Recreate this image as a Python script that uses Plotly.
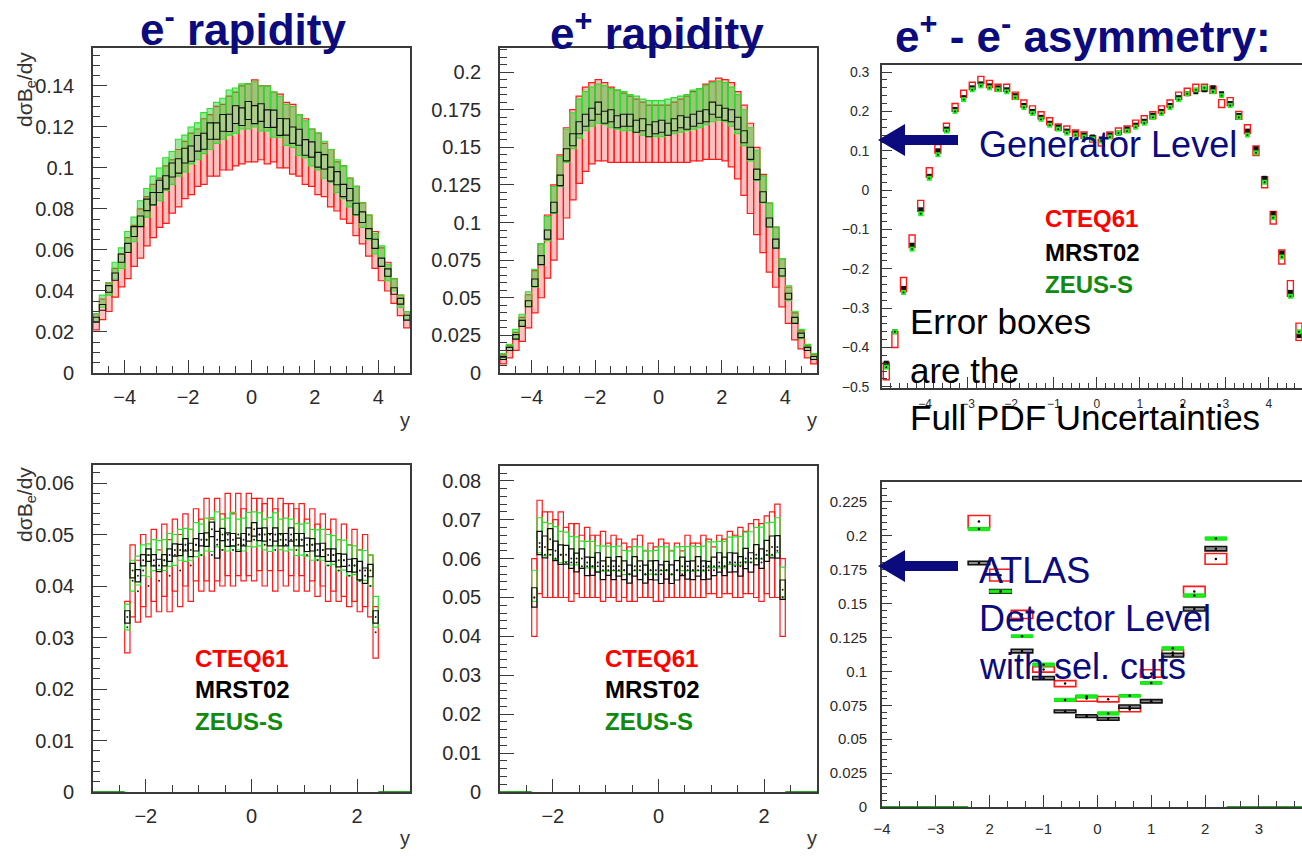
import plotly.graph_objects as go

W, H = 1302, 862

# ---------------- bins (histogram bin centres) ----------------
x_top = [-4.9, -4.7, -4.5, -4.3, -4.1, -3.9, -3.7, -3.5, -3.3, -3.1,
         -2.9, -2.7, -2.5, -2.3, -2.1, -1.9, -1.7, -1.5, -1.3, -1.1,
         -0.9, -0.7, -0.5, -0.3, -0.1, 0.1, 0.3, 0.5, 0.7, 0.9,
         1.1, 1.3, 1.5, 1.7, 1.9, 2.1, 2.3, 2.5, 2.7, 2.9,
         3.1, 3.3, 3.5, 3.7, 3.9, 4.1, 4.3, 4.5, 4.7, 4.9]
x_bot = [-2.35, -2.25, -2.15, -2.05, -1.95, -1.85, -1.75, -1.65, -1.55, -1.45,
         -1.35, -1.25, -1.15, -1.05, -0.95, -0.85, -0.75, -0.65, -0.55, -0.45,
         -0.35, -0.25, -0.15, -0.05, 0.05, 0.15, 0.25, 0.35, 0.45, 0.55,
         0.65, 0.75, 0.85, 0.95, 1.05, 1.15, 1.25, 1.35, 1.45, 1.55,
         1.65, 1.75, 1.85, 1.95, 2.05, 2.15, 2.25, 2.35]
x_det = [-2.2, -1.8, -1.4, -1.0, -0.6, -0.2, 0.2, 0.6, 1.0, 1.4, 1.8, 2.2]
zero_bins_bot = [-3.0, -2.4, 2.4, 3.0]
zero_bins_det = [-4.0, -2.4, 2.4, 3.8]

# ---------------- panel 1 : e- rapidity (generator level) ----------------
p1_mrst_c = [0.026, 0.032, 0.041, 0.047, 0.056, 0.061, 0.069, 0.074, 0.082, 0.085,
             0.091, 0.093, 0.099, 0.101, 0.106, 0.107, 0.112, 0.113, 0.118, 0.118,
             0.122, 0.122, 0.126, 0.125, 0.128, 0.126, 0.127, 0.124, 0.124, 0.120,
             0.120, 0.116, 0.115, 0.110, 0.109, 0.104, 0.103, 0.097, 0.095, 0.089,
             0.087, 0.080, 0.076, 0.068, 0.063, 0.054, 0.049, 0.040, 0.035, 0.027]
p1_mrst_e = [0.0012, 0.0014, 0.0016, 0.0018, 0.002, 0.0022, 0.0024, 0.0026, 0.0028, 0.003,
             0.003, 0.0032, 0.0034, 0.0035, 0.0036, 0.0037, 0.0038, 0.0039, 0.004, 0.004,
             0.0041, 0.0042, 0.0043, 0.0043, 0.0044, 0.0044, 0.0043, 0.0043, 0.0042, 0.0041,
             0.004, 0.004, 0.0039, 0.0038, 0.0037, 0.0036, 0.0035, 0.0034, 0.0032, 0.003,
             0.003, 0.0028, 0.0026, 0.0024, 0.0022, 0.002, 0.0018, 0.0016, 0.0014, 0.0012]
p1_zeus_c = [0.027, 0.035, 0.041, 0.050, 0.056, 0.064, 0.070, 0.078, 0.083, 0.089,
             0.092, 0.097, 0.100, 0.105, 0.107, 0.111, 0.113, 0.117, 0.119, 0.122,
             0.124, 0.127, 0.128, 0.130, 0.130, 0.131, 0.129, 0.129, 0.126, 0.125,
             0.121, 0.120, 0.116, 0.114, 0.110, 0.108, 0.104, 0.101, 0.096, 0.093,
             0.088, 0.084, 0.077, 0.071, 0.063, 0.057, 0.049, 0.043, 0.035, 0.028]
p1_zeus_e = [0.002, 0.003, 0.003, 0.004, 0.005, 0.005, 0.006, 0.006, 0.007, 0.007,
             0.008, 0.008, 0.008, 0.009, 0.009, 0.009, 0.009, 0.010, 0.010, 0.010,
             0.010, 0.011, 0.011, 0.011, 0.011, 0.011, 0.011, 0.011, 0.011, 0.010,
             0.010, 0.010, 0.010, 0.009, 0.009, 0.009, 0.009, 0.008, 0.008, 0.008,
             0.007, 0.007, 0.006, 0.006, 0.005, 0.005, 0.004, 0.003, 0.003, 0.002]
p1_cteq_c = [0.025, 0.031, 0.037, 0.044, 0.050, 0.056, 0.062, 0.068, 0.074, 0.079,
             0.083, 0.087, 0.091, 0.095, 0.099, 0.102, 0.105, 0.108, 0.111, 0.113,
             0.115, 0.117, 0.119, 0.121, 0.122, 0.123, 0.122, 0.121, 0.120, 0.118,
             0.116, 0.114, 0.111, 0.108, 0.105, 0.102, 0.099, 0.095, 0.091, 0.088,
             0.084, 0.079, 0.073, 0.067, 0.060, 0.053, 0.047, 0.040, 0.033, 0.026]
p1_cteq_e = [0.004, 0.005, 0.007, 0.007, 0.008, 0.010, 0.010, 0.012, 0.012, 0.013,
             0.012, 0.014, 0.013, 0.014, 0.014, 0.015, 0.014, 0.016, 0.015, 0.017,
             0.016, 0.018, 0.018, 0.019, 0.019, 0.020, 0.018, 0.019, 0.017, 0.018,
             0.016, 0.017, 0.015, 0.016, 0.014, 0.015, 0.013, 0.014, 0.012, 0.013,
             0.011, 0.012, 0.010, 0.010, 0.009, 0.008, 0.007, 0.006, 0.005, 0.004]

# ---------------- panel 2 : e+ rapidity (generator level) ----------------
p2_mrst_c = [0.010, 0.016, 0.024, 0.033, 0.046, 0.060, 0.075, 0.092, 0.110, 0.128,
             0.145, 0.155, 0.163, 0.168, 0.172, 0.176, 0.170, 0.171, 0.167, 0.168,
             0.168, 0.164, 0.165, 0.161, 0.163, 0.164, 0.162, 0.165, 0.167, 0.166,
             0.168, 0.170, 0.171, 0.176, 0.174, 0.172, 0.171, 0.166, 0.157, 0.146,
             0.132, 0.117, 0.100, 0.086, 0.067, 0.051, 0.035, 0.025, 0.016, 0.010]
p2_mrst_e = [0.001, 0.001, 0.0015, 0.002, 0.002, 0.0025, 0.003, 0.003, 0.0035, 0.0035,
             0.004, 0.004, 0.004, 0.004, 0.004, 0.004, 0.004, 0.004, 0.004, 0.004,
             0.004, 0.004, 0.004, 0.004, 0.004, 0.004, 0.004, 0.004, 0.004, 0.004,
             0.004, 0.004, 0.004, 0.004, 0.004, 0.004, 0.004, 0.004, 0.004, 0.004,
             0.0035, 0.0035, 0.003, 0.003, 0.0025, 0.002, 0.002, 0.0015, 0.001, 0.001]
p2_zeus_c = [0.011, 0.017, 0.026, 0.035, 0.049, 0.063, 0.079, 0.096, 0.115, 0.134,
             0.151, 0.161, 0.169, 0.174, 0.177, 0.179, 0.178, 0.176, 0.175, 0.174,
             0.173, 0.172, 0.170, 0.169, 0.169, 0.169, 0.170, 0.171, 0.172, 0.173,
             0.175, 0.176, 0.178, 0.180, 0.181, 0.180, 0.177, 0.172, 0.163, 0.152,
             0.138, 0.122, 0.105, 0.090, 0.070, 0.053, 0.037, 0.026, 0.017, 0.011]
p2_zeus_e = [0.002, 0.002, 0.003, 0.004, 0.005, 0.006, 0.007, 0.008, 0.009, 0.010,
             0.011, 0.012, 0.013, 0.013, 0.013, 0.013, 0.013, 0.013, 0.013, 0.013,
             0.012, 0.012, 0.012, 0.012, 0.012, 0.012, 0.012, 0.012, 0.012, 0.012,
             0.013, 0.013, 0.013, 0.013, 0.013, 0.013, 0.013, 0.013, 0.012, 0.011,
             0.010, 0.009, 0.008, 0.007, 0.006, 0.005, 0.004, 0.003, 0.002, 0.002]
p2_cteq_c = [0.009, 0.014, 0.021, 0.029, 0.041, 0.054, 0.068, 0.084, 0.100, 0.117,
             0.133, 0.145, 0.155, 0.162, 0.166, 0.168, 0.167, 0.165, 0.164, 0.163,
             0.162, 0.161, 0.160, 0.159, 0.159, 0.159, 0.159, 0.160, 0.161, 0.162,
             0.164, 0.165, 0.167, 0.168, 0.169, 0.168, 0.165, 0.158, 0.148, 0.136,
             0.121, 0.106, 0.090, 0.077, 0.060, 0.045, 0.031, 0.022, 0.014, 0.009]
p2_cteq_e = [0.003, 0.004, 0.006, 0.008, 0.011, 0.014, 0.018, 0.021, 0.025, 0.028,
             0.030, 0.030, 0.029, 0.028, 0.027, 0.027, 0.026, 0.025, 0.024, 0.023,
             0.022, 0.021, 0.020, 0.019, 0.019, 0.019, 0.019, 0.020, 0.021, 0.022,
             0.023, 0.024, 0.025, 0.026, 0.027, 0.027, 0.028, 0.029, 0.030, 0.030,
             0.029, 0.026, 0.023, 0.020, 0.016, 0.012, 0.009, 0.006, 0.004, 0.003]

# ---------------- panel 3 : e+ - e- asymmetry (generator level) ----------------
p3_mrst = [-0.44, -0.36, -0.25, -0.14, -0.05, 0.035, 0.10, 0.155, 0.205, 0.235,
           0.26, 0.27, 0.265, 0.26, 0.255, 0.24, 0.215, 0.20, 0.185, 0.17,
           0.16, 0.15, 0.145, 0.14, 0.135, 0.13, 0.14, 0.145, 0.155, 0.165,
           0.175, 0.19, 0.20, 0.215, 0.235, 0.245, 0.25, 0.255, 0.26, 0.245,
           0.22, 0.19, 0.15, 0.105, 0.03, -0.06, -0.16, -0.26, -0.37, -0.46]
p3_zeus = [-0.45, -0.36, -0.26, -0.15, -0.06, 0.03, 0.09, 0.15, 0.20, 0.23,
           0.255, 0.265, 0.26, 0.255, 0.25, 0.235, 0.21, 0.195, 0.18, 0.165,
           0.155, 0.145, 0.14, 0.135, 0.13, 0.125, 0.135, 0.145, 0.15, 0.16,
           0.17, 0.185, 0.195, 0.21, 0.23, 0.245, 0.255, 0.26, 0.25, 0.24,
           0.215, 0.185, 0.14, 0.095, 0.02, -0.07, -0.17, -0.27, -0.36, -0.45]
p3_cteq = [-0.46, -0.38, -0.24, -0.13, -0.04, 0.045, 0.105, 0.16, 0.21, 0.245,
           0.265, 0.28, 0.27, 0.26, 0.26, 0.24, 0.22, 0.205, 0.19, 0.175,
           0.16, 0.155, 0.145, 0.14, 0.13, 0.12, 0.14, 0.15, 0.155, 0.17,
           0.18, 0.19, 0.205, 0.22, 0.24, 0.25, 0.26, 0.26, 0.255, 0.22,
           0.225, 0.19, 0.155, 0.10, 0.02, -0.07, -0.17, -0.25, -0.36, -0.47]
p3_cteq_e = [0.022, 0.02, 0.018, 0.016, 0.014, 0.012, 0.011, 0.01, 0.01, 0.009,
             0.009, 0.009, 0.009, 0.009, 0.009, 0.009, 0.009, 0.009, 0.009, 0.009,
             0.008, 0.008, 0.008, 0.008, 0.008, 0.008, 0.008, 0.008, 0.008, 0.008,
             0.009, 0.009, 0.009, 0.009, 0.009, 0.009, 0.009, 0.009, 0.009, 0.01,
             0.01, 0.01, 0.011, 0.012, 0.014, 0.016, 0.018, 0.02, 0.022, 0.024]
p3_tickvals = [-4, -3, -2, -1, 0, 1, 2, 3, 4]

# ---------------- panel 4 : e- rapidity (detector level) ----------------
p4_mrst_c = [0.034, 0.043, 0.042, 0.045, 0.046, 0.045, 0.044, 0.045, 0.046, 0.047,
             0.047, 0.048, 0.047, 0.048, 0.049, 0.049, 0.051, 0.048, 0.050, 0.049,
             0.049, 0.048, 0.049, 0.050, 0.051, 0.050, 0.050, 0.049, 0.050, 0.049,
             0.049, 0.050, 0.049, 0.049, 0.048, 0.048, 0.047, 0.047, 0.046, 0.046,
             0.045, 0.045, 0.044, 0.044, 0.043, 0.042, 0.043, 0.034]
p4_mrst_e = [0.0012, 0.0014, 0.0012, 0.0011, 0.0012, 0.0011, 0.0012, 0.0011, 0.0012, 0.0012,
             0.0011, 0.0012, 0.0013, 0.0012, 0.0012, 0.0013, 0.0014, 0.0026, 0.0012, 0.0013,
             0.0012, 0.0013, 0.0012, 0.0013, 0.0013, 0.0012, 0.0013, 0.0012, 0.0013, 0.0012,
             0.0012, 0.0013, 0.0012, 0.0012, 0.0013, 0.0012, 0.0012, 0.0013, 0.0012, 0.0012,
             0.0013, 0.0012, 0.0012, 0.0013, 0.0018, 0.0015, 0.0012, 0.0012]
p4_zeus_c = [0.034, 0.042, 0.043, 0.045, 0.045, 0.046, 0.046, 0.046, 0.047, 0.047,
             0.048, 0.048, 0.048, 0.049, 0.049, 0.050, 0.050, 0.051, 0.050, 0.050,
             0.051, 0.050, 0.050, 0.051, 0.051, 0.051, 0.050, 0.050, 0.051, 0.050,
             0.050, 0.050, 0.049, 0.049, 0.049, 0.048, 0.048, 0.048, 0.047, 0.047,
             0.046, 0.046, 0.045, 0.045, 0.044, 0.044, 0.043, 0.035]
p4_zeus_e = [0.0025, 0.003, 0.0028, 0.003, 0.0032, 0.003, 0.0028, 0.003, 0.0032, 0.003,
             0.003, 0.0032, 0.003, 0.0033, 0.003, 0.0032, 0.0033, 0.0034, 0.003, 0.0032,
             0.0033, 0.003, 0.0032, 0.0033, 0.0034, 0.0032, 0.003, 0.0033, 0.0032, 0.003,
             0.0032, 0.003, 0.0031, 0.003, 0.0032, 0.003, 0.0029, 0.003, 0.003, 0.0028,
             0.003, 0.0029, 0.003, 0.0028, 0.003, 0.0029, 0.003, 0.003]
p4_cteq_c = [0.032, 0.041, 0.039, 0.043, 0.040, 0.044, 0.041, 0.045, 0.042, 0.046,
             0.043, 0.047, 0.044, 0.048, 0.046, 0.049, 0.046, 0.049, 0.047, 0.050,
             0.047, 0.050, 0.048, 0.050, 0.049, 0.050, 0.048, 0.050, 0.047, 0.050,
             0.048, 0.049, 0.047, 0.049, 0.046, 0.048, 0.045, 0.047, 0.044, 0.046,
             0.043, 0.045, 0.042, 0.044, 0.041, 0.043, 0.040, 0.031]
p4_cteq_e = [0.005, 0.007, 0.006, 0.007, 0.006, 0.007, 0.006, 0.007, 0.007, 0.007,
             0.007, 0.007, 0.007, 0.007, 0.007, 0.008, 0.007, 0.008, 0.007, 0.008,
             0.007, 0.008, 0.007, 0.008, 0.008, 0.007, 0.008, 0.007, 0.008, 0.007,
             0.008, 0.007, 0.008, 0.007, 0.007, 0.007, 0.007, 0.007, 0.007, 0.007,
             0.006, 0.007, 0.006, 0.007, 0.006, 0.007, 0.006, 0.005]

# ---------------- panel 5 : e+ rapidity (detector level) ----------------
p5_mrst_c = [0.050, 0.064, 0.063, 0.065, 0.062, 0.061, 0.061, 0.060, 0.059, 0.060,
             0.058, 0.058, 0.059, 0.057, 0.058, 0.057, 0.058, 0.057, 0.056, 0.058,
             0.057, 0.056, 0.057, 0.057, 0.056, 0.057, 0.056, 0.057, 0.058, 0.057,
             0.057, 0.058, 0.057, 0.057, 0.058, 0.059, 0.058, 0.059, 0.059, 0.058,
             0.060, 0.059, 0.061, 0.060, 0.062, 0.063, 0.063, 0.052]
p5_mrst_e = [0.0025, 0.003, 0.0028, 0.0027, 0.0025, 0.0025, 0.0024, 0.0025, 0.0024, 0.0025,
             0.0024, 0.0023, 0.0025, 0.0024, 0.0023, 0.0024, 0.0025, 0.0024, 0.0023, 0.0025,
             0.0024, 0.0023, 0.0024, 0.0025, 0.0024, 0.0023, 0.0024, 0.0025, 0.0024, 0.0023,
             0.0024, 0.0025, 0.0024, 0.0023, 0.0024, 0.0025, 0.0024, 0.0025, 0.0024, 0.0025,
             0.0026, 0.0025, 0.0026, 0.0025, 0.0027, 0.0028, 0.0029, 0.0025]
p5_zeus_c = [0.053, 0.066, 0.065, 0.065, 0.064, 0.063, 0.063, 0.062, 0.062, 0.061,
             0.061, 0.061, 0.060, 0.060, 0.060, 0.060, 0.060, 0.059, 0.059, 0.060,
             0.060, 0.059, 0.059, 0.059, 0.060, 0.060, 0.059, 0.060, 0.060, 0.060,
             0.060, 0.060, 0.060, 0.061, 0.061, 0.061, 0.061, 0.062, 0.062, 0.062,
             0.063, 0.063, 0.064, 0.064, 0.065, 0.065, 0.066, 0.054]
p5_zeus_e = [0.004, 0.0045, 0.0043, 0.004, 0.0042, 0.004, 0.0038, 0.0037, 0.0036, 0.0035,
             0.0034, 0.0034, 0.0033, 0.0032, 0.0032, 0.0031, 0.0032, 0.0031, 0.003, 0.0031,
             0.003, 0.0031, 0.003, 0.0031, 0.0031, 0.003, 0.0031, 0.003, 0.0031, 0.0031,
             0.0032, 0.0031, 0.0032, 0.0033, 0.0033, 0.0034, 0.0034, 0.0035, 0.0036, 0.0037,
             0.0038, 0.0039, 0.004, 0.0041, 0.0042, 0.0043, 0.0045, 0.0038]
p5_cteq_c = [0.050, 0.063, 0.061, 0.061, 0.060, 0.061, 0.059, 0.059, 0.060, 0.058,
             0.059, 0.058, 0.058, 0.058, 0.057, 0.058, 0.057, 0.057, 0.056, 0.057,
             0.058, 0.056, 0.057, 0.056, 0.057, 0.057, 0.056, 0.057, 0.056, 0.058,
             0.057, 0.057, 0.058, 0.058, 0.057, 0.058, 0.058, 0.059, 0.058, 0.059,
             0.059, 0.060, 0.060, 0.059, 0.061, 0.061, 0.062, 0.050]
p5_cteq_e = [0.010, 0.012, 0.011, 0.011, 0.010, 0.011, 0.009, 0.010, 0.009, 0.008,
             0.009, 0.008, 0.008, 0.009, 0.007, 0.008, 0.008, 0.007, 0.007, 0.008,
             0.008, 0.006, 0.007, 0.007, 0.008, 0.007, 0.006, 0.007, 0.006, 0.008,
             0.007, 0.007, 0.008, 0.007, 0.006, 0.008, 0.007, 0.008, 0.008, 0.009,
             0.008, 0.009, 0.010, 0.010, 0.010, 0.011, 0.012, 0.010]

# ---------------- panel 6 : asymmetry (ATLAS detector level) ----------------
p6_cteq_c = [0.2105, 0.171, 0.142, 0.1015, 0.091, 0.080, 0.0795, 0.072, 0.0985, 0.114, 0.159, 0.183]
p6_cteq_e = [0.0045, 0.0043, 0.003, 0.002, 0.0022, 0.002, 0.002, 0.0018, 0.0027, 0.002, 0.0037, 0.004]
p6_mrst_c = [0.180, 0.159, 0.115, 0.095, 0.0705, 0.067, 0.065, 0.074, 0.078, 0.112, 0.146, 0.1905]
p6_mrst_e = [0.0013, 0.0013, 0.0013, 0.0012, 0.001, 0.001, 0.001, 0.0012, 0.0012, 0.0014, 0.0014, 0.0016]
p6_zeus_c = [0.205, 0.159, 0.126, 0.105, 0.079, 0.0815, 0.069, 0.082, 0.0915, 0.117, 0.156, 0.198]
p6_zeus_e = [0.0012, 0.001, 0.001, 0.0012, 0.0012, 0.0012, 0.0012, 0.001, 0.001, 0.0012, 0.0012, 0.0012]
p6_tickvals = [-4, -3, -2, -1, 0, 1, 2, 3]
p6_ticktext = ["\u22124", "\u22123", "2", "\u22121", "0", "1", "2", "3"]

for name, arr, ref in [
    ("p1", [p1_mrst_c, p1_mrst_e, p1_zeus_c, p1_zeus_e, p1_cteq_c, p1_cteq_e], x_top),
    ("p2", [p2_mrst_c, p2_mrst_e, p2_zeus_c, p2_zeus_e, p2_cteq_c, p2_cteq_e], x_top),
    ("p3", [p3_mrst, p3_zeus, p3_cteq, p3_cteq_e], x_top),
    ("p4", [p4_mrst_c, p4_mrst_e, p4_zeus_c, p4_zeus_e, p4_cteq_c, p4_cteq_e], x_bot),
    ("p5", [p5_mrst_c, p5_mrst_e, p5_zeus_c, p5_zeus_e, p5_cteq_c, p5_cteq_e], x_bot),
    ("p6", [p6_mrst_c, p6_mrst_e, p6_zeus_c, p6_zeus_e, p6_cteq_c, p6_cteq_e], x_det)]:
    for i, a in enumerate(arr):
        assert len(a) == len(ref), (name, i, len(a), len(ref))

# ---------------- styling ----------------
FONT = "Liberation Sans, Arial, Helvetica, sans-serif"
NARROW = "Liberation Sans Narrow, Arial Narrow, Liberation Sans, Arial, sans-serif"
NAVY = "#0b0b7d"
RED = "#ff1a1a"
GREEN = "#2ee02e"
GREEN_TXT = "#108a10"
AXC = "#3a3a3a"


def px(x):
    return x / W


def py(y):
    return 1 - y / H


fig = go.Figure()


def ax_ids(n):
    return ("x" if n == 1 else f"x{n}"), ("y" if n == 1 else f"y{n}")


def add_boxes(n, xs, c, e, width, line_color, fill, lw):
    xa, ya = ax_ids(n)
    lo = [ci - ei for ci, ei in zip(c, e)]
    hgt = [2 * ei for ei in e]
    fig.add_trace(go.Bar(x=xs, y=hgt, base=lo, width=width,
                         marker=dict(color=fill, line=dict(color=line_color, width=lw)),
                         xaxis=xa, yaxis=ya, hoverinfo="skip"))


def add_dots(n, xs, ys, color="#000", size=2.5, symbol="circle"):
    xa, ya = ax_ids(n)
    fig.add_trace(go.Scatter(x=xs, y=ys, mode="markers",
                             marker=dict(color=color, size=size, symbol=symbol, line=dict(width=0)),
                             xaxis=xa, yaxis=ya, hoverinfo="skip"))


def add_zero_line(n, zb):
    xa, ya = ax_ids(n)
    fig.add_trace(go.Scatter(x=[zb[0], zb[1], None, zb[2], zb[3]], y=[0, 0, None, 0, 0],
                             mode="lines", line=dict(color="#22aa22", width=2),
                             xaxis=xa, yaxis=ya, hoverinfo="skip"))


# panel 1
add_boxes(1, x_top, p1_cteq_c, p1_cteq_e, 0.2, RED, "rgba(255,60,60,0.32)", 1.2)
add_boxes(1, x_top, p1_zeus_c, p1_zeus_e, 0.2, GREEN, "rgba(40,200,40,0.45)", 1.1)
add_boxes(1, x_top, p1_mrst_c, p1_mrst_e, 0.2, "#111", "rgba(255,255,255,0.15)", 1.1)
# panel 2
add_boxes(2, x_top, p2_cteq_c, p2_cteq_e, 0.2, RED, "rgba(255,60,60,0.32)", 1.2)
add_boxes(2, x_top, p2_zeus_c, p2_zeus_e, 0.2, GREEN, "rgba(40,200,40,0.45)", 1.1)
add_boxes(2, x_top, p2_mrst_c, p2_mrst_e, 0.2, "#111", "rgba(255,255,255,0.15)", 1.1)
# panel 3
add_boxes(3, x_top, p3_cteq, p3_cteq_e, 0.14, RED, "rgba(255,255,255,0)", 1.4)
add_dots(3, x_top, p3_mrst, "#111", 5, "square")
add_dots(3, x_top, p3_zeus, "#22ee22", 5, "square")
add_dots(3, x_top, p3_zeus, "#000", 1.8)
# panel 4
add_boxes(4, x_bot, p4_cteq_c, p4_cteq_e, 0.1, RED, "rgba(255,255,255,0)", 1.2)
add_boxes(4, x_bot, p4_zeus_c, p4_zeus_e, 0.1, GREEN, "rgba(255,255,255,0)", 1.2)
add_boxes(4, x_bot, p4_mrst_c, p4_mrst_e, 0.1, "#111", "rgba(255,255,255,0)", 1.2)
add_dots(4, x_bot, p4_cteq_c, "#222", 2)
add_dots(4, x_bot, p4_mrst_c, "#222", 2)
add_zero_line(4, zero_bins_bot)
# panel 5
add_boxes(5, x_bot, p5_cteq_c, p5_cteq_e, 0.1, RED, "rgba(255,255,255,0)", 1.2)
add_boxes(5, x_bot, p5_zeus_c, p5_zeus_e, 0.1, GREEN, "rgba(255,255,255,0)", 1.2)
add_boxes(5, x_bot, p5_mrst_c, p5_mrst_e, 0.1, "#111", "rgba(255,255,255,0)", 1.2)
add_dots(5, x_bot, p5_cteq_c, "#222", 2)
add_dots(5, x_bot, p5_mrst_c, "#222", 2)
add_zero_line(5, zero_bins_bot)
# panel 6
add_boxes(6, x_det, p6_cteq_c, p6_cteq_e, 0.4, RED, "rgba(255,255,255,0)", 1.6)
add_boxes(6, x_det, p6_mrst_c, p6_mrst_e, 0.4, "#111", "#8a8a8a", 1.6)
add_boxes(6, x_det, p6_zeus_c, p6_zeus_e, 0.4, "#10e010", "#18f018", 1)
add_dots(6, x_det, p6_cteq_c, "#000", 2.5)
add_dots(6, x_det, p6_mrst_c, "#000", 2.5)
add_dots(6, x_det, p6_zeus_c, "#000", 2.5)
add_zero_line(6, zero_bins_det)


def axis(dom_px, rng, horizontal, dtick, mdtick, tlen, mlen, fsize, family, standoff,
         anchor, mirror=True, **extra):
    if horizontal:
        dom = [px(dom_px[0]), px(dom_px[1])]
    else:
        dom = [py(dom_px[1]), py(dom_px[0])]
    d = dict(domain=dom, range=rng, anchor=anchor, showgrid=False, zeroline=False,
             showline=True, linecolor=AXC, linewidth=1.6, mirror=mirror,
             ticks="inside", ticklen=tlen, tickwidth=1.3, tickcolor=AXC,
             tickfont=dict(family=family, size=fsize, color="#2a2a2a"),
             ticklabelstandoff=standoff, fixedrange=True, automargin=False,
             minor=dict(ticks="inside", ticklen=mlen, tickwidth=1, tickcolor=AXC,
                        dtick=mdtick, showgrid=False))
    if dtick is not None:
        d.update(dtick=dtick, tick0=0)
    d.update(extra)
    return d


layout = dict(width=W, height=H, margin=dict(l=0, r=0, t=0, b=0, pad=0),
              paper_bgcolor="white", plot_bgcolor="white", showlegend=False,
              barmode="overlay", font=dict(family=FONT))

# panel 1
layout["xaxis"] = axis((93, 410), [-5, 5], True, 2, 0.5, 13, 7, 20, FONT, 5, "y")
layout["yaxis"] = axis((48, 373), [0, 0.1585], False, 0.02, 0.005, 14, 7, 20, FONT, 13, "x")
# panel 2
layout["xaxis2"] = axis((500, 817), [-5, 5], True, 2, 0.5, 13, 7, 20, FONT, 5, "y2")
layout["yaxis2"] = axis((48, 373), [0, 0.216], False, 0.025, 0.005, 14, 7, 20, FONT, 13, "x2")
# panel 3
layout["xaxis3"] = axis((882, 1302), [-5, 4.77], True, None, 0.2, 11, 5, 12, NARROW, 4, "y3",
                        tickmode="array", tickvals=p3_tickvals)
layout["xaxis3"]["minor"].update(tick0=0)
layout["yaxis3"] = axis((65, 388), [-0.503, 0.318], False, 0.1, 0.02, 10, 5, 14, NARROW, 8, "x3",
                        mirror=False)
# panel 4
layout["xaxis4"] = axis((93, 410), [-3, 3], True, 2, 0.5, 13, 7, 20, FONT, 5, "y4")
layout["yaxis4"] = axis((465, 792), [0, 0.0635], False, 0.01, 0.002, 14, 7, 20, FONT, 13, "x4")
# panel 5
layout["xaxis5"] = axis((500, 817), [-3, 3], True, 2, 0.5, 13, 7, 20, FONT, 5, "y5")
layout["yaxis5"] = axis((466, 792), [0, 0.0838], False, 0.01, 0.002, 14, 7, 20, FONT, 13, "x5")
# panel 6
layout["xaxis6"] = axis((882, 1302), [-4, 3.8], True, None, 1 / 3, 12, 6, 15, NARROW, 7, "y6",
                        tickmode="array", tickvals=p6_tickvals, ticktext=p6_ticktext)
layout["xaxis6"]["minor"].update(tick0=-4)
layout["yaxis6"] = axis((482, 807), [0, 0.2397], False, 0.025, 0.005, 10, 5, 15, NARROW, 10, "x6",
                        mirror=False)

fig.update_layout(**layout)

# ---------------- texts ----------------
ann = []


def text(x, y, s, size, color, xanchor="left", bold=False, angle=0, family=FONT):
    ann.append(dict(x=px(x), y=py(y), xref="paper", yref="paper", text=s, showarrow=False,
                    xanchor=xanchor, yanchor="middle", textangle=angle,
                    font=dict(family=family, size=size, color=color,
                              weight="bold" if bold else "normal")))


text(243, 27, "e<sup>-</sup> rapidity", 44, NAVY, "center", True)
text(657, 30, "e<sup>+</sup> rapidity", 44, NAVY, "center", True)
text(1083, 34, "e<sup>+</sup> - e<sup>-</sup> asymmetry:", 44, NAVY, "center", True)

text(977, 145, "Generator Level", 36, NAVY)
text(908, 321, "Error boxes", 35, "#000")
text(908, 370, "are the", 35, "#000")
text(908, 418, "Full PDF Uncertainties", 35, "#000")

text(977, 570, "ATLAS", 36, NAVY)
text(977, 618, "Detector Level", 36, NAVY)
text(977, 666, "with sel. cuts", 36, NAVY)

for (lx, ys) in [(1043, (219, 253, 284)), (193, (658, 689, 721)), (603, (658, 689, 721))]:
    text(lx, ys[0], "CTEQ61", 24, "#ff0000", bold=True)
    text(lx, ys[1], "MRST02", 24, "#000000", bold=True)
    text(lx, ys[2], "ZEUS-S", 24, GREEN_TXT, bold=True)

text(26, 90, "d\u03c3B<sub>e</sub>/dy", 21, "#333", "center", angle=-90)
text(26, 505, "d\u03c3B<sub>e</sub>/dy", 21, "#333", "center", angle=-90)
for (lx, ly) in [(405, 420), (812, 420), (405, 838), (812, 838)]:
    text(lx, ly, "y", 20, "#333", "center")

fig.update_layout(annotations=ann)

# navy arrows (decorations pointing at the panels)
for tip_y in [140, 566]:
    x0, xh, x1 = 878, 905, 958
    path = (f"M {px(x0)},{py(tip_y)} L {px(xh)},{py(tip_y - 16)} L {px(xh)},{py(tip_y - 5)} "
            f"L {px(x1)},{py(tip_y - 5)} L {px(x1)},{py(tip_y + 5)} L {px(xh)},{py(tip_y + 5)} "
            f"L {px(xh)},{py(tip_y + 16)} Z")
    fig.add_shape(type="path", path=path, xref="paper", yref="paper",
                  fillcolor=NAVY, line=dict(color=NAVY, width=0))

fig.write_html("out.html",
               post_script="document.body.style.margin='0px';"
                           "document.body.style.padding='0px';"
                           "document.body.style.overflow='hidden';")
